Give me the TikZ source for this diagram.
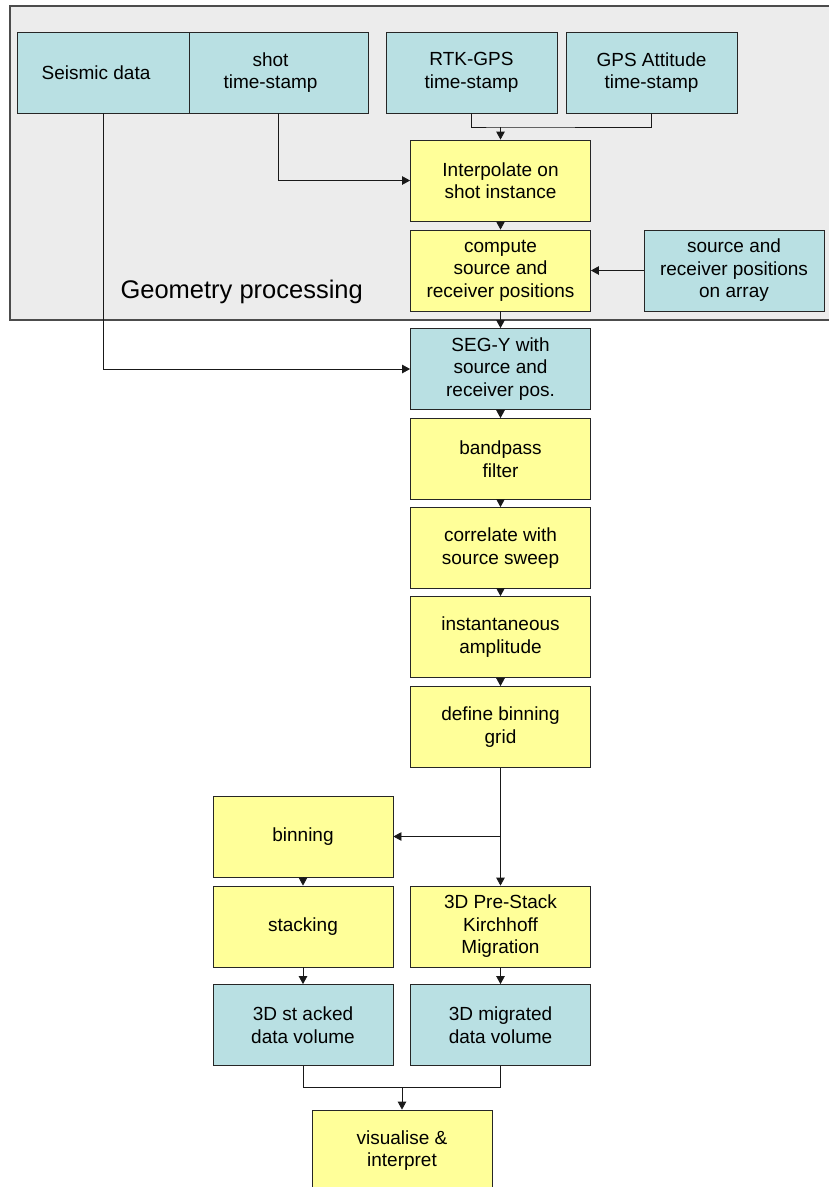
\documentclass[tikz,border=0pt]{standalone}
\usepackage{fontspec}
\setmainfont{Liberation Sans}
\usetikzlibrary{arrows.meta}
\definecolor{datacyan}{RGB}{185,224,227}
\definecolor{stepyellow}{RGB}{255,255,153}
\definecolor{groupgrey}{RGB}{236,236,236}
\begin{document}
\begin{tikzpicture}[x=1pt,y=-1pt,
    box/.style={draw=black!85,line width=0.8pt,align=center,inner sep=2pt,
      minimum width=180pt,minimum height=81pt,
      font=\fontsize{19}{22.5}\selectfont},
    datbox/.style={box,fill=datacyan},
    procbox/.style={box,fill=stepyellow},
    arr/.style={-{Triangle[length=8pt,width=8.5pt]},line width=0.8pt,draw=black!90},
    lnk/.style={line width=0.8pt,draw=black!90}]
      \useasboundingbox (0,0) rectangle (829,1187);
      \clip (0,0) rectangle (829,1187);

      % geometry processing group
      \fill[groupgrey] (10,6) rectangle (840,320);
      \draw[black!70,line width=1.5pt] (10,6) rectangle (840,320);
      \node[anchor=base west,font=\fontsize{25.5}{30}\selectfont] (geolabel) at (117,298) {Geometry processing};

      \node[datbox,minimum width=172pt] (seismic) at (103,72.5) {\hspace*{-14pt}Seismic data};
      \node[datbox,minimum width=179pt] (shot) at (278.5,72.5) {\hspace*{-16pt}shot\\\hspace*{-16pt}time-stamp};
      \node[datbox,minimum width=171pt] (rtk) at (471.5,72.5) {RTK-GPS\\time-stamp};
      \node[datbox,minimum width=171pt] (gpsatt) at (651.5,72.5) {GPS Attitude\\time-stamp};

      \node[procbox] (interp) at (500.5,180.5) {Interpolate on\\shot instance};
      \node[procbox] (compute) at (500.5,270.5) {compute\\source and\\receiver positions};
      \node[datbox] (array) at (734,270.5) {source and\\receiver positions\\on array};

      % processing chain
      \node[datbox] (segy) at (500.5,369) {SEG-Y with\\source and\\receiver pos.};
      \node[procbox] (bandpass) at (500.5,459) {bandpass\\filter};
      \node[procbox] (correlate) at (500.5,548) {correlate with\\source sweep};
      \node[procbox] (inst) at (500.5,637) {instantaneous\\amplitude};
      \node[procbox] (bingrid) at (500.5,727) {define binning\\grid};

      \node[procbox] (binning) at (303,836.5) {binning};
      \node[procbox] (stacking) at (303,926.5) {stacking};
      \node[datbox] (stacked) at (303,1025) {3D st acked\\data volume};
      \node[procbox] (kirchhoff) at (500.5,926.5) {3D Pre-Stack\\Kirchhoff\\Migration};
      \node[datbox] (migrated) at (500.5,1025) {3D migrated\\data volume};
      \node[procbox] (visual) at (402,1150.5) {visualise \&\\interpret};

      \coordinate (jtop) at (interp.north |- 0,127);
      \coordinate (jbin) at (bingrid.south |- binning.east);
      \coordinate (jbot) at (visual.north |- 0,1087);

      \draw[lnk] (rtk.south) |- (jtop) -| (gpsatt.south);
      \draw[arr] (jtop) -- (interp.north);
      \draw[arr] (shot.south) |- (interp.west);
      \draw[arr] (interp.south) -- (compute.north);
      \draw[arr] (array.west) -- (compute.east);
      \draw[arr] (compute.south) -- (segy.north);
      \draw[arr] (seismic.south) |- (segy.west);

      \draw[arr] (segy.south) -- (bandpass.north);
      \draw[arr] (bandpass.south) -- (correlate.north);
      \draw[arr] (correlate.south) -- (inst.north);
      \draw[arr] (inst.south) -- (bingrid.north);
      \draw[arr] (bingrid.south) -- (kirchhoff.north);
      \draw[arr] (jbin) -- (binning.east);

      \draw[arr] (binning.south) -- (stacking.north);
      \draw[arr] (stacking.south) -- (stacked.north);
      \draw[arr] (kirchhoff.south) -- (migrated.north);
      \draw[lnk] (stacked.south) |- (jbot) -| (migrated.south);
      \draw[arr] (jbot) -- (visual.north);
\end{tikzpicture}
\end{document}
